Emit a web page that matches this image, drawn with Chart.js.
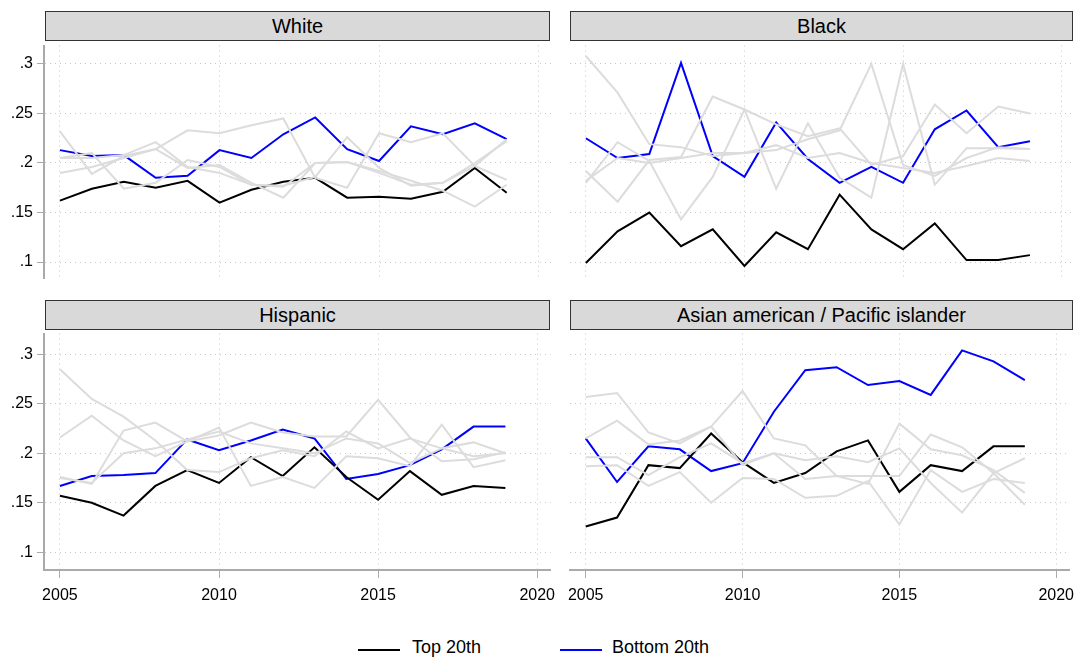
<!DOCTYPE html>
<html>
<head>
<meta charset="utf-8">
<script src="https://cdn.jsdelivr.net/npm/chart.js@4"></script>
<style>
  body { margin:0; background:#fff; font-family:Arial, "Liberation Sans", sans-serif; }
  .wrap { position:absolute; }
  .hdr { position:absolute; background:#d9d9d9; border:1px solid #333; box-sizing:border-box;
         text-align:center; font-size:20px; line-height:28px; color:#000; }
  .leg { position:absolute; top:637px; font-size:18px; }
  .leg span.l { position:absolute; top:12px; height:2px; }
</style>
</head>
<body>
<div class="hdr" style="left:45px;top:11px;width:505px;height:30px">White</div>
<div class="hdr" style="left:570px;top:11px;width:503px;height:30px">Black</div>
<div class="hdr" style="left:45px;top:300px;width:505px;height:30px">Hispanic</div>
<div class="hdr" style="left:570px;top:300px;width:503px;height:30px">Asian american / Pacific islander</div>

<div class="wrap" style="left:0;top:32px;width:552px;height:260px"><canvas id="c1"></canvas></div>
<div class="wrap" style="left:526px;top:32px;width:549px;height:260px"><canvas id="c2"></canvas></div>
<div class="wrap" style="left:0;top:320px;width:563px;height:290px"><canvas id="c3"></canvas></div>
<div class="wrap" style="left:526px;top:320px;width:556px;height:290px"><canvas id="c4"></canvas></div>

<div class="leg" style="left:0;width:1082px;height:24px">
  <span class="l" style="left:358px;width:42px;background:#000"></span>
  <span style="position:absolute;left:412px;top:0">Top 20th</span>
  <span class="l" style="left:560px;width:42px;background:#0000ff"></span>
  <span style="position:absolute;left:612px;top:0">Bottom 20th</span>
</div>

<script>
var years = [2005,2006,2007,2008,2009,2010,2011,2012,2013,2014,2015,2016,2017,2018,2019];
var xTicks = [2005,2010,2015,2020];
var yTicks = [0.1,0.15,0.2,0.25,0.3];
var yTickLabels = ['.1','.15','.2','.25','.3'];

// White
var whiteTop = [.162,.174,.181,.175,.182,.160,.173,.181,.185,.165,.166,.164,.171,.195,.170];
var whiteBottom = [.213,.207,.208,.185,.187,.213,.205,.229,.246,.214,.202,.237,.229,.240,.224];
var whiteG1 = [.232,.189,.207,.214,.195,.198,.180,.165,.200,.201,.192,.182,.172,.156,.178];
var whiteG2 = [.205,.210,.174,.180,.203,.196,.178,.177,.186,.226,.195,.177,.180,.197,.224];
var whiteG3 = [.190,.196,.205,.214,.233,.230,.238,.245,.185,.175,.230,.221,.230,.197,.183];
var whiteG4 = [.205,.205,.208,.221,.196,.190,.178,.176,.200,.201,.190,.178,.180,.200,.222];

// Black
var blackTop = [.099,.131,.150,.116,.133,.096,.130,.113,.168,.133,.113,.139,.102,.102,.107];
var blackBottom = [.225,.205,.209,.301,.207,.186,.241,.204,.180,.196,.180,.234,.253,.216,.222];
var blackG1 = [.308,.271,.219,.216,.207,.210,.213,.224,.233,.300,.198,.187,.205,.216,.214];
var blackG2 = [.192,.161,.203,.206,.267,.254,.239,.227,.235,.198,.207,.259,.230,.257,.250];
var blackG3 = [.180,.221,.202,.143,.186,.254,.174,.240,.185,.165,.300,.178,.215,.215,.214];
var blackG4 = [.182,.205,.200,.205,.210,.210,.218,.205,.210,.200,.195,.190,.197,.205,.202];

// Hispanic
var hispTop = [.157,.150,.137,.167,.183,.170,.196,.177,.206,.176,.153,.182,.158,.167,.165];
var hispBottom = [.167,.177,.178,.180,.214,.203,.213,.224,.215,.174,.179,.188,.204,.227,.227];
var hispG1 = [.285,.255,.237,.213,.183,.181,.195,.203,.197,.222,.205,.215,.205,.211,.200];
var hispG2 = [.216,.238,.213,.197,.212,.226,.167,.176,.165,.197,.195,.187,.229,.186,.193];
var hispG3 = [.176,.169,.223,.231,.212,.218,.231,.221,.217,.217,.254,.216,.192,.194,.201];
var hispG4 = [.175,.170,.200,.205,.214,.222,.210,.205,.200,.215,.210,.190,.205,.197,.200];

// Asian american / Pacific islander
var asianTop = [.126,.135,.188,.185,.220,.191,.170,.180,.202,.213,.161,.188,.182,.207,.207];
var asianBottom = [.215,.171,.207,.204,.182,.190,.242,.284,.287,.269,.273,.259,.304,.293,.274];
var asianG1 = [.257,.261,.221,.210,.227,.263,.215,.208,.177,.177,.177,.219,.206,.180,.195];
var asianG2 = [.215,.233,.209,.213,.227,.188,.200,.174,.177,.169,.230,.204,.198,.183,.160];
var asianG3 = [.187,.188,.167,.181,.150,.175,.174,.155,.157,.172,.128,.183,.161,.174,.170];
var asianG4 = [.196,.196,.178,.196,.210,.190,.200,.193,.197,.191,.205,.170,.140,.180,.148];

function pts(arr) {
  return arr.map(function(v, i) { return {x: years[i], y: v}; });
}

function makePanel(id, top, bottom, grays, showY, showX) {
  var ds = [];
  grays.forEach(function(g) {
    ds.push({data: pts(g), borderColor: '#dcdcdc', borderWidth: 2, pointRadius: 0, tension: 0});
  });
  ds.push({data: pts(top), borderColor: '#000000', borderWidth: 2, pointRadius: 0, tension: 0});
  ds.push({data: pts(bottom), borderColor: '#0000ff', borderWidth: 2, pointRadius: 0, tension: 0});

  var yMin = showX ? 0.082 : 0.0835;
  var yMax = showX ? 0.321 : 0.3185;
  new Chart(document.getElementById(id), {
    type: 'line',
    data: {datasets: ds},
    options: {
      responsive: true,
      maintainAspectRatio: false,
      animation: false,
      layout: {padding: 0},
      plugins: {legend: {display: false}, tooltip: {enabled: false}},
      scales: {
        x: {
          type: 'linear',
          min: 2004.5, max: 2020.42,
          display: true,
          afterBuildTicks: function(s) { s.ticks = xTicks.map(function(v) { return {value: v}; }); },
          afterFit: function(s) { s.height = showX ? 40 : 0; },
          grid: {color: '#c8c8c8', lineWidth: 1, drawTicks: showX, tickLength: 8, tickColor: '#aaa'},
          border: {display: showX, color: '#aaa', width: 2, dash: [1, 4]},
          ticks: {display: showX, color: '#000', font: {size: 16, family: 'Arial'}, padding: 8, maxRotation: 0,
                  callback: function(v) { return String(v); }}
        },
        y: {
          min: yMin, max: yMax,
          afterBuildTicks: function(s) { s.ticks = yTicks.map(function(v) { return {value: v}; }); },
          afterFit: function(s) { s.width = 44; },
          grid: {color: '#c8c8c8', lineWidth: 1, drawTicks: showY, tickLength: 7, tickColor: '#aaa'},
          border: {display: showY, color: '#aaa', width: 2, dash: [1, 4]},
          ticks: {
            display: true, color: showY ? '#000' : 'rgba(0,0,0,0)', font: {size: 16, family: 'Arial'}, padding: 4,
            callback: function(v) {
              var i = yTicks.findIndex(function(t) { return Math.abs(t - v) < 1e-9; });
              return i >= 0 ? yTickLabels[i] : '';
            }
          }
        }
      }
    }
  });
}

makePanel('c1', whiteTop, whiteBottom, [whiteG1, whiteG2, whiteG3, whiteG4], true, false);
makePanel('c2', blackTop, blackBottom, [blackG1, blackG2, blackG3, blackG4], false, false);
makePanel('c3', hispTop, hispBottom, [hispG1, hispG2, hispG3, hispG4], true, true);
makePanel('c4', asianTop, asianBottom, [asianG1, asianG2, asianG3, asianG4], false, true);
</script>
</body>
</html>
